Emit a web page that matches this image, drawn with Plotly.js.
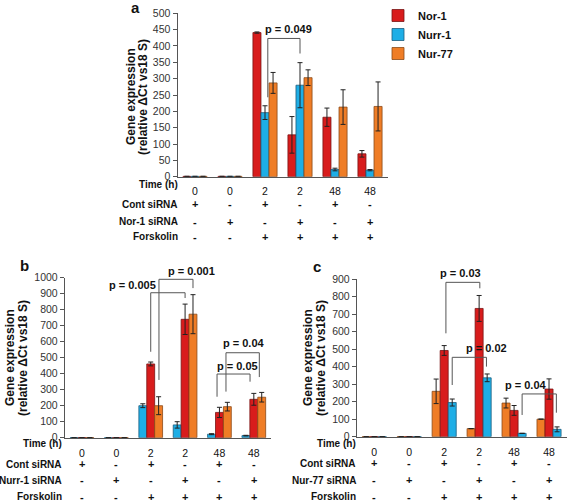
<!DOCTYPE html>
<html><head><meta charset="utf-8">
<script src="https://cdn.plot.ly/plotly-3.0.1.min.js"></script>
<style>html,body{margin:0;padding:0;background:#fff}#chart{width:567px;height:502px}</style>
</head><body><div id="chart"></div>
<script>
// ---------- data ----------
const catIdx = [0, 1, 2, 3, 4, 5];
const timeLabels = ['0', '0', '2', '2', '48', '48'];
const contSigns = ['+', '-', '+', '-', '+', '-'];
const siSigns = ['-', '+', '-', '+', '-', '+'];
const forskSigns = ['-', '-', '+', '+', '+', '+'];

// Panel a (Nor-1 siRNA)
const norA = [1, 1, 441, 128, 182, 70];
const norAErr = [null, null, 2, 56, 28, 10];
const nurrA = [1, 1, 196, 280, 22, 20];
const nurrAErr = [null, null, 21, 69, 4, 2];
const nur77A = [1, 1, 287, 303, 213, 215];
const nur77AErr = [null, null, 32, 24, 53, 75];

// Panel b (Nurr-1 siRNA)
const nurrB = [1, 1, 200, 80, 22, 13];
const nurrBErr = [null, null, 12, 20, 3, 2];
const norB = [1, 1, 461, 740, 158, 240];
const norBErr = [null, null, 12, 95, 32, 37];
const nur77B = [1, 1, 200, 772, 194, 253];
const nur77BErr = [null, null, 56, 122, 27, 30];

// Panel c (Nur-77 siRNA)
const nur77C = [1, 1, 259, 46, 192, 100];
const nur77CErr = [null, null, 70, null, 28, null];
const norC = [1, 1, 492, 732, 150, 272];
const norCErr = [null, null, 28, 74, 28, 58];
const nurrC = [1, 1, 195, 336, 19, 42];
const nurrCErr = [null, null, 20, 22, null, 14];

// significance brackets: [x1, y1, yTop, x2, y2, label, textX, textY]
const bracketsA = [[2.08, 243, 423, 3.0, 377, 'p = 0.049', 2.67, 453]];
const bracketsB = [
  [2.0, 537, 906, 3.0, 873, 'p = 0.005', 1.46, 954],
  [2.24, 361, 990, 3.23, 935, 'p = 0.001', 3.2, 1044],
  [3.93, 256, 398, 4.89, 350, 'p = 0.05', 4.53, 448],
  [4.19, 288, 531, 5.16, 379, 'p = 0.04', 4.7, 594]
];
const bracketsC = [
  [2.05, 590, 881, 3.02, 847, 'p = 0.03', 2.48, 933],
  [2.23, 295, 453, 3.21, 400, 'p = 0.02', 3.21, 505],
  [4.23, 124, 244, 5.21, 137, 'p = 0.04', 4.33, 295]
];

// ---------- styles ----------
const FONT = 'Arial, "Liberation Sans", sans-serif';
const COL = {
  nor: {fill: '#d81c1c', line: '#7a1414'},
  nurr: {fill: '#1eaee6', line: '#1c5d7e'},
  nur77: {fill: '#ef7d26', line: '#8a4a18'}
};
const NAMES = {nor: 'Nor-1', nurr: 'Nurr-1', nur77: 'Nur-77'};

function bar(key, y, err, xa, ya, showLegend) {
  return {
    type: 'bar', x: catIdx, y: y, name: NAMES[key], legendgroup: key,
    showlegend: showLegend, xaxis: xa, yaxis: ya,
    marker: {color: COL[key].fill, line: {color: COL[key].line, width: 0.8}},
    error_y: {type: 'data', array: err, visible: true, color: '#222', thickness: 1, width: 2.5},
    hoverinfo: 'skip'
  };
}

const traces = [
  bar('nor', norA, norAErr, 'x', 'y', true),
  bar('nurr', nurrA, nurrAErr, 'x', 'y', true),
  bar('nur77', nur77A, nur77AErr, 'x', 'y', true),
  bar('nurr', nurrB, nurrBErr, 'x2', 'y2', false),
  bar('nor', norB, norBErr, 'x2', 'y2', false),
  bar('nur77', nur77B, nur77BErr, 'x2', 'y2', false),
  bar('nur77', nur77C, nur77CErr, 'x3', 'y3', false),
  bar('nor', norC, norCErr, 'x3', 'y3', false),
  bar('nurr', nurrC, nurrCErr, 'x3', 'y3', false)
];

const W = 567, H = 502;
const px = v => v / W;
const py = v => 1 - v / H;

function xAxis(d0, d1, anchor, standoff) {
  return {
    domain: [px(d0), px(d1)], range: [-0.5, 5.5], anchor: anchor,
    showline: true, linecolor: '#555', linewidth: 1, ticks: '', showgrid: false, zeroline: false,
    tickmode: 'array', tickvals: catIdx, ticktext: timeLabels, ticklabelstandoff: standoff,
    tickfont: {family: FONT, size: 10.5, color: '#111'}, fixedrange: true
  };
}
function yAxis(d0, d1, max, dtick, anchor) {
  return {
    domain: [py(d0), py(d1)], range: [0, max], dtick: dtick, anchor: anchor,
    showline: true, linecolor: '#555', linewidth: 1, ticks: 'outside', ticklen: 4,
    tickcolor: '#555', showgrid: false, zeroline: false,
    tickfont: {family: FONT, size: 10.5, color: '#333'}, fixedrange: true
  };
}

const shapes = [];
const annotations = [];

function addBrackets(list, xref, yref, max) {
  list.forEach(b => {
    shapes.push({
      type: 'path', xref: xref, yref: yref,
      path: `M${b[0]},${b[1]} L${b[0]},${b[2]} L${b[3]},${b[2]} L${b[3]},${b[4]}`,
      line: {color: '#555', width: 1}
    });
    annotations.push({
      xref: xref, yref: yref + ' domain', x: b[6], y: b[7] / max, text: b[5], showarrow: false,
      xanchor: 'center', yanchor: 'middle',
      font: {family: FONT, size: 11, color: '#111', weight: 'bold'}
    });
  });
}
addBrackets(bracketsA, 'x', 'y', 500);
addBrackets(bracketsB, 'x2', 'y2', 1000);
addBrackets(bracketsC, 'x3', 'y3', 900);

function addRows(xref, siLabel, rightX, timeY, rowsY, titleX1, titleX2, titleY, letter, letterX, letterY) {
  const bold = {family: FONT, size: 10, color: '#111', weight: 'bold'};
  annotations.push({xref: 'paper', yref: 'paper', x: px(rightX), y: py(timeY), xanchor: 'right',
    yanchor: 'middle', text: 'Time (h)', showarrow: false, font: bold});
  const labels = ['Cont siRNA', siLabel, 'Forskolin'];
  const signs = [contSigns, siSigns, forskSigns];
  labels.forEach((lab, r) => {
    annotations.push({xref: 'paper', yref: 'paper', x: px(rightX), y: py(rowsY[r]), xanchor: 'right',
      yanchor: 'middle', text: lab, showarrow: false, font: bold});
    signs[r].forEach((s, i) => {
      annotations.push({xref: xref, yref: 'paper', x: catIdx[i], y: py(rowsY[r]), xanchor: 'center',
        yanchor: 'middle', text: s, showarrow: false,
        font: {family: FONT, size: 11, color: '#111', weight: 'bold'}});
    });
  });
  const tf = {family: FONT, size: 12, color: '#111', weight: 'bold'};
  annotations.push({xref: 'paper', yref: 'paper', x: px(titleX1), y: py(titleY), textangle: -90,
    xanchor: 'center', yanchor: 'middle', text: 'Gene expression', showarrow: false, font: tf});
  annotations.push({xref: 'paper', yref: 'paper', x: px(titleX2), y: py(titleY), textangle: -90,
    xanchor: 'center', yanchor: 'middle', text: '(relative ΔCt vs18 S)', showarrow: false, font: tf});
  annotations.push({xref: 'paper', yref: 'paper', x: px(letterX), y: py(letterY), text: letter,
    xanchor: 'center', yanchor: 'middle', showarrow: false,
    font: {family: FONT, size: 15, color: '#111', weight: 'bold'}});
}
addRows('x', 'Nor-1 siRNA', 180, 184, [204, 221.7, 236.7], 131, 143, 97, 'a', 135, 8);
addRows('x2', 'Nurr-1 siRNA', 64, 443.5, [464, 480, 496.7], 10, 23, 358, 'b', 24, 265);
addRows('x3', 'Nur-77 siRNA', 358, 443, [463, 480, 496.7], 308, 321, 358, 'c', 317, 266);

const layout = {
  width: W, height: H, margin: {l: 0, r: 0, t: 0, b: 0},
  paper_bgcolor: '#fff', plot_bgcolor: 'rgba(0,0,0,0)',
  barmode: 'group', bargap: 0.31, bargroupgap: 0,
  showlegend: true,
  legend: {x: px(378), y: py(1), xanchor: 'left', yanchor: 'top', bgcolor: 'rgba(0,0,0,0)',
    font: {family: FONT, size: 11, color: '#111', weight: 'bold'}, itemwidth: 30, tracegroupgap: 0,
    traceorder: 'normal'},
  xaxis: xAxis(177.5, 387.5, 'y', 5),
  yaxis: yAxis(176.7, 13.3, 500, 50, 'x'),
  xaxis2: xAxis(64.8, 271, 'y2', 6),
  yaxis2: yAxis(437.7, 277.7, 1000, 100, 'x2'),
  xaxis3: xAxis(356.8, 566.5, 'y3', 6),
  yaxis3: yAxis(436.7, 279, 900, 100, 'x3'),
  shapes: shapes, annotations: annotations
};
Plotly.newPlot('chart', traces, layout, {displayModeBar: false, staticPlot: true});
</script></body></html>
